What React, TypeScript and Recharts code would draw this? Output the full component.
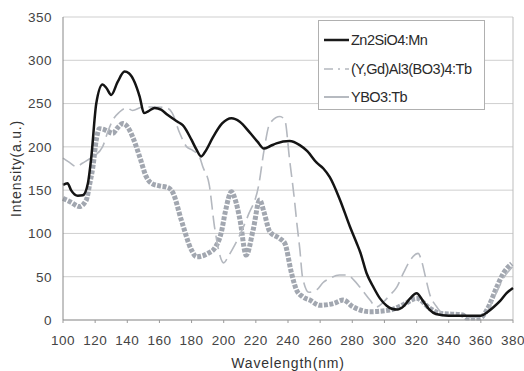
import { LineChart, Line, XAxis, YAxis, CartesianGrid, ReferenceLine } from 'recharts';

// Zn2SiO4:Mn (black solid)
const znWl = [100, 102.8, 105, 109.2, 112.3, 115.5, 117.6, 120.7, 124.6, 127, 130, 134, 138.3, 141, 144.5, 147.7, 150.4, 153, 157, 161, 165, 171.3, 174.5, 180, 183, 186, 189, 193, 199, 204.8, 210, 216, 221, 225, 229, 232.8, 241, 247.3, 252, 257.7, 262, 266, 272.3, 278.5, 282.7, 285, 288.9, 293, 297.2, 301.4, 304.5, 308, 312, 316, 320, 324, 328, 332, 340, 350, 360, 364, 368, 372, 376, 380];
const znVals = [156, 158, 150, 143.5, 144, 158, 188, 250, 272, 268, 260, 275, 287, 285, 275, 258, 239, 241, 245, 243, 237, 229, 225, 208, 197, 189, 196, 210, 227, 233, 229, 217, 206, 198, 201, 204, 206.7, 202, 195, 182, 175, 165, 139, 108, 89, 78, 54, 38.5, 25, 16.5, 13, 12, 16, 25, 31, 22, 12, 7, 5, 5, 5, 9, 15, 22, 31, 37];

// (Y,Gd)Al3(BO3)4:Tb (light grey dashed)
const yagWl = [100, 104, 108.4, 112, 118, 124.6, 128, 131, 135, 139.6, 143.3, 149.5, 157, 164.5, 168, 172.6, 177, 180.7, 185, 187, 191, 194.4, 200, 203, 207, 215, 222, 225, 228.7, 235, 238, 241, 244, 245.5, 247.4, 249, 253, 258, 261.7, 266, 272, 277, 281, 284.7, 291, 295, 299, 303, 307.7, 312, 316, 321, 323, 325.5, 328, 332.6, 336, 345, 355, 362, 368, 374, 380];
const yagVals = [187, 182, 177, 181, 188, 200, 218, 231, 240, 245, 242, 246, 246, 245, 239, 216, 200, 196, 188, 177, 156, 106, 66, 74, 87, 120, 158, 195, 227, 235, 231, 185, 139, 112, 81, 50, 32, 35, 43, 48, 52, 52, 46, 38, 23, 15, 20, 28, 38, 55, 69, 77, 69, 50, 31, 15, 8, 5, 3, 5, 25, 48, 62];

// YBO3:Tb (grey square markers)
const yboWl = [100, 105, 110, 114.5, 116.5, 118.6, 120.7, 122.7, 126.9, 131, 134, 137.3, 140.2, 143.3, 147.7, 151.8, 155, 160, 165.3, 168.4, 173.6, 179.9, 183, 190.2, 194.4, 198.6, 201, 204.8, 207, 210, 214, 218.3, 222.4, 225, 228.7, 234.9, 238, 242.2, 245.3, 249, 253.6, 259.8, 268.1, 274.3, 280.6, 291, 303.4, 312, 320, 328.3, 334.5, 348.9, 351, 359.4, 363.7, 369.9, 374, 379.2];
const yboVals = [140.5, 136, 131, 138.6, 156, 177, 208, 221, 219, 215.6, 222, 227, 223, 211.7, 188.6, 165.5, 158, 155, 153, 147, 115.5, 81, 73, 77, 83, 102, 125, 148, 140, 117, 75, 104, 138.6, 125, 102, 94, 88.6, 54, 34.6, 27, 23, 17, 19, 23, 15, 9.6, 11.5, 18, 25, 13.5, 7.7, 5.8, 2.3, 2.3, 11.5, 38, 54, 65];

const xTicks = [100, 120, 140, 160, 180, 200, 220, 240, 260, 280, 300, 320, 340, 360, 380];
const yTicks = [0, 50, 100, 150, 200, 250, 300, 350];

const toPoints = (wl: number[], vals: number[]) => wl.map((x, i) => ({ x, y: vals[i] }));

const font = "'Liberation Sans', Arial, sans-serif";

const legendItems = [
    { name: 'Zn2SiO4:Mn', color: '#1a1a1a', width: 2.5, dash: undefined },
    { name: '(Y,Gd)Al3(BO3)4:Tb', color: '#b4b8bf', width: 1.5, dash: '9 5 2 5' },
    { name: 'YBO3:Tb', color: '#9ea3ab', width: 1.5, dash: undefined },
];

const LegendBox = () => (
    <div style={{ position: 'absolute', left: 318, top: 20, border: '1px solid #b0b0b0', background: '#fff', width: 167, height: 90, paddingTop: 5, boxSizing: 'border-box', fontFamily: font }}>
        {legendItems.map((item) => (
            <div key={item.name} style={{ display: 'flex', alignItems: 'center', height: 28.5 }}>
                <svg width={28} height={10} style={{ marginLeft: 4 }}>
                    <line x1={1} x2={26} y1={5} y2={5} stroke={item.color} strokeWidth={item.width} strokeDasharray={item.dash} />
                </svg>
                <span style={{ fontSize: 14.5, color: '#2a2a2a', letterSpacing: -0.5 }}>{item.name}</span>
            </div>
        ))}
    </div>
);

export default function App() {
    return (
        <div style={{ position: 'absolute', left: 0, top: 0, width: 524, height: 371, background: '#fff' }}>
            <LineChart width={524} height={371} margin={{ top: 17, right: 11, bottom: 21, left: 0 }}>
                <CartesianGrid horizontal vertical={false} stroke="#cfcfcf" />
                <XAxis
                    type="number"
                    dataKey="x"
                    domain={[100, 380]}
                    ticks={xTicks}
                    interval={0}
                    height={30}
                    tickSize={3}
                    tickMargin={12}
                    stroke="#999"
                    tick={{ fill: '#444', fontSize: 13.5, fontFamily: font, letterSpacing: 0.5 }}
                    label={{ value: 'Wavelength(nm)', position: 'bottom', offset: 8, fill: '#333', fontSize: 14, fontFamily: font, letterSpacing: 0.8 }}
                />
                <YAxis
                    type="number"
                    domain={[0, 350]}
                    ticks={yTicks}
                    interval={0}
                    width={63}
                    tickLine={false}
                    tickMargin={5}
                    stroke="#888"
                    tick={{ fill: '#444', fontSize: 13.5, fontFamily: font, letterSpacing: 0.5 }}
                    label={{ value: 'Intensity(a.u.)', angle: -90, position: 'insideLeft', offset: 16, fill: '#333', fontSize: 14, fontFamily: font, letterSpacing: 0.8, style: { textAnchor: 'middle' } }}
                />
                <ReferenceLine x={380} stroke="#bdbdbd" />
                <Line
                    data={toPoints(yboWl, yboVals)}
                    dataKey="y"
                    name="YBO3:Tb"
                    type="monotone"
                    stroke="#a2a7b0"
                    strokeWidth={5}
                    strokeDasharray="4 1.5"
                    dot={false}
                    isAnimationActive={false}
                />
                <Line
                    data={toPoints(yagWl, yagVals)}
                    dataKey="y"
                    name="(Y,Gd)Al3(BO3)4:Tb"
                    type="monotone"
                    stroke="#b4b8bf"
                    strokeWidth={1.6}
                    strokeDasharray="14 6"
                    dot={false}
                    isAnimationActive={false}
                />
                <Line
                    data={toPoints(znWl, znVals)}
                    dataKey="y"
                    name="Zn2SiO4:Mn"
                    type="monotone"
                    stroke="#141414"
                    strokeWidth={2.5}
                    dot={false}
                    isAnimationActive={false}
                />
            </LineChart>
            <LegendBox />
        </div>
    );
}
